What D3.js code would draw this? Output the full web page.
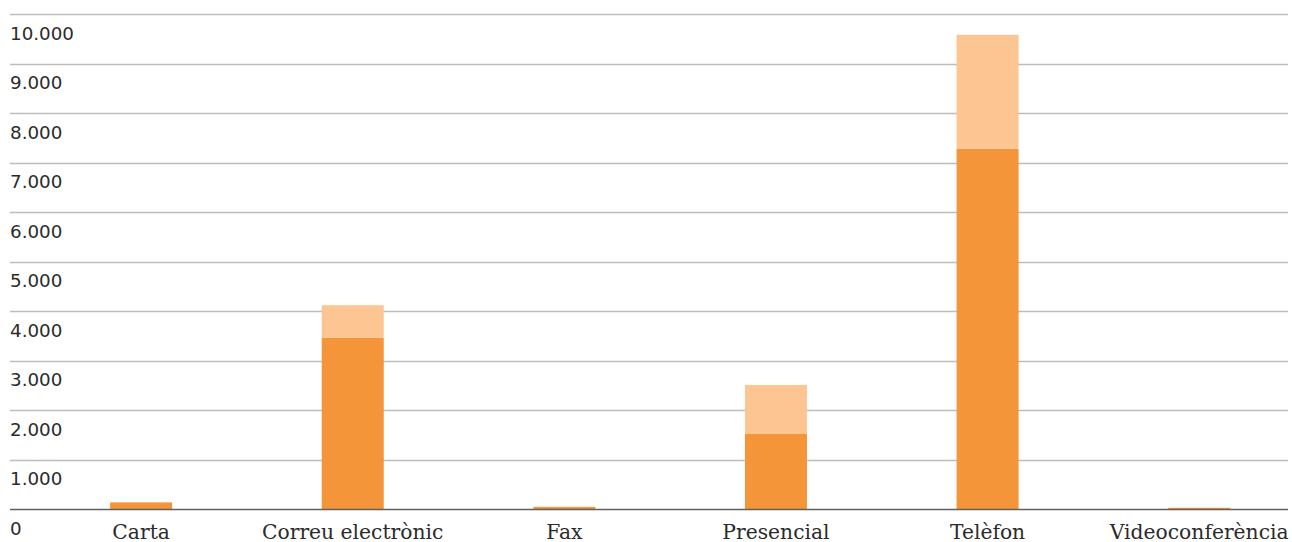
<!DOCTYPE html>
<html><head><meta charset="utf-8">
<script src="https://cdn.jsdelivr.net/npm/d3@7"></script>
<style>
html,body{margin:0;padding:0;background:#fff;}
</style></head>
<body>
<svg id="chart" width="1292" height="542"></svg>
<script>
const categories = ["Carta","Correu electrònic","Fax","Presencial","Telèfon","Videoconferència"];
const seriesDark = [140, 3460, 50, 1520, 7280, 30];
const seriesLight = [0, 660, 0, 990, 2300, 0];
const yTicks = [0,1000,2000,3000,4000,5000,6000,7000,8000,9000,10000];
const yTickLabels = ["0","1.000","2.000","3.000","4.000","5.000","6.000","7.000","8.000","9.000","10.000"];

const svg = d3.select("#chart");
const y = d3.scaleLinear().domain([0,10000]).range([509.3,14]);
const x = d3.scaleBand().domain(categories).range([35.3,1305]).paddingInner(0.707).paddingOuter(0.3535);

// grid
svg.append("g").selectAll("line").data(yTicks.filter(d=>d>0)).join("line")
  .attr("x1",10).attr("x2",1288)
  .attr("y1",d=>Math.round(y(d))+0.5).attr("y2",d=>Math.round(y(d))+0.5)
  .attr("stroke","#bdbdbd").attr("stroke-width",1.3);

// tick labels (below the gridline)
svg.append("g").selectAll("text").data(yTicks).join("text")
  .attr("x",10).attr("y",(d,i)=>y(d)+25.5)
  .attr("font-family","DejaVu Sans").attr("font-size",18.3).attr("fill","#2b2b2b")
  .text((d,i)=>yTickLabels[i]);

const bw = x.bandwidth();
// dark
svg.append("g").selectAll("rect").data(categories).join("rect")
  .attr("x",d=>x(d)).attr("width",bw)
  .attr("y",(d,i)=>y(seriesDark[i])).attr("height",(d,i)=>y(0)-y(seriesDark[i]))
  .attr("fill","#f5953a");
// light
svg.append("g").selectAll("rect").data(categories).join("rect")
  .attr("x",d=>x(d)).attr("width",bw)
  .attr("y",(d,i)=>y(seriesDark[i]+seriesLight[i])).attr("height",(d,i)=>y(seriesDark[i])-y(seriesDark[i]+seriesLight[i]))
  .attr("fill","#fcc592");

// baseline
svg.append("line").attr("x1",10).attr("x2",1288).attr("y1",509.5).attr("y2",509.5)
  .attr("stroke","#5f5f5f").attr("stroke-width",1.6);

// category labels
svg.append("g").selectAll("text").data(categories).join("text")
  .attr("x",d=>x(d)+bw/2).attr("y",538.5)
  .attr("text-anchor","middle")
  .attr("font-family","DejaVu Serif").attr("font-size",20.3).attr("fill","#2b2b2b")
  .text(d=>d);
</script>
</body></html>
